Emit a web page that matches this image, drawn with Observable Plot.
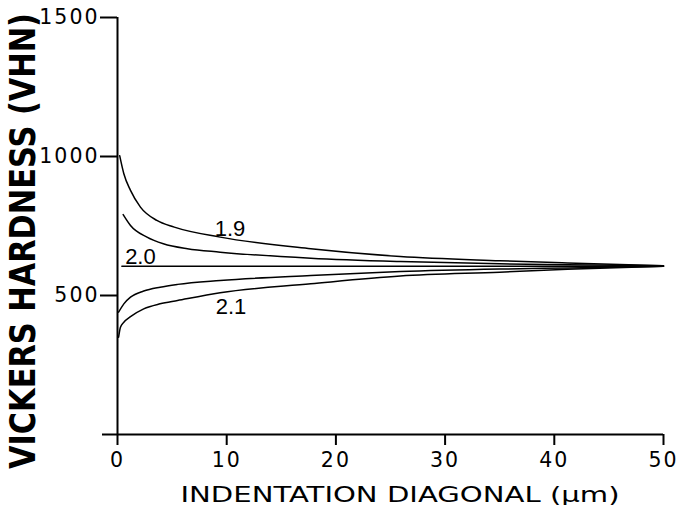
<!DOCTYPE html>
<html>
<head>
<meta charset="utf-8">
<script src="https://cdn.jsdelivr.net/npm/d3@7"></script>
<script src="https://cdn.jsdelivr.net/npm/@observablehq/plot@0.6"></script>
<style>
  body { margin: 0; background: #fff; }
  g[aria-label="y-axis tick label"] text,
  g[aria-label="x-axis tick label"] text { letter-spacing: 2px; }
</style>
</head>
<body>
<div id="chart"></div>
<script>
// Indentation diagonal (µm) and Vickers hardness (VHN), per Meyer index n
const diag19 = [0.2, 0.58, 1.19, 2.1, 3.6, 5.2, 9.4, 17.7, 25.9, 35, 41.2, 50];
const hard19 = [1003, 938, 878, 818, 770, 746, 710, 668, 640, 625, 617, 607];

const diag195 = [0.52, 1.19, 2.7, 4.2, 6.4, 9.4, 17.7, 25.9, 35, 41.2, 50];
const hard195 = [791, 752, 710, 686, 668, 656, 634, 622, 614, 611, 607];

const diag20 = [0.4, 10, 20, 30, 40, 50];
const hard20 = [605, 605, 605, 605, 605, 605];

const diag205 = [0.1, 0.58, 1.19, 2.4, 3.9, 5.5, 9.4, 17.7, 25.9, 35, 41.2, 50];
const hard205 = [440, 470, 494, 516, 530, 540, 554, 572, 586, 595, 599, 605];

const diag21 = [0.1, 0.27, 0.58, 1.19, 2.4, 3.9, 5.5, 9.4, 17.7, 25.9, 35, 41.2, 50];
const hard21 = [350, 386, 404, 424, 452, 470, 482, 510, 542, 570, 584, 594, 605];

const seriesNames = ["1.9", "1.95", "2.0", "2.05", "2.1"];
const seriesDiag = [diag19, diag195, diag20, diag205, diag21];
const seriesHard = [hard19, hard195, hard20, hard205, hard21];

// Curve labels
const labelText = ["1.9", "2.0", "2.1"];
const labelX = [10.3, 2.1, 10.4];
const labelY = [741, 640, 460];

// Axis ticks and titles
const xTicks = [0, 10, 20, 30, 40, 50];
const yTicks = [500, 1000, 1500];
const xTitle = "INDENTATION DIAGONAL (\u00b5m)";
const yTitle = "VICKERS HARDNESS (VHN)";

const rows = seriesNames.flatMap((n, s) =>
  seriesDiag[s].map((d, i) => ({series: n, d, h: seriesHard[s][i]}))
);
const labels = labelText.map((t, i) => ({t, x: labelX[i], y: labelY[i]}));

const chart = Plot.plot({
  width: 678,
  height: 505,
  marginLeft: 117,
  marginRight: 15,
  marginTop: 17,
  marginBottom: 71,
  x: {domain: [0, 50]},
  y: {domain: [0, 1500]},
  style: {fontFamily: "DejaVu Sans", fontSize: "20.5px", color: "black", background: "white", overflow: "visible"},
  marks: [
    Plot.line(rows, {x: "d", y: "h", z: "series", curve: "monotone-x", stroke: "black", strokeWidth: 1.5}),
    Plot.ruleX([0], {stroke: "black", strokeWidth: 2}),
    Plot.ruleY([0], {stroke: "black", strokeWidth: 2, insetLeft: -15}),
    Plot.axisX({ticks: xTicks, tickSize: 11, tickPadding: 7, strokeWidth: 2, label: null, tickFormat: d => String(d)}),
    Plot.axisY({ticks: yTicks, tickSize: 17, tickPadding: 1, strokeWidth: 2, label: null, tickFormat: d => String(d)}),
    Plot.text(labels, {x: "x", y: "y", text: "t", fontFamily: "Liberation Sans", fontSize: 22, fill: "black"}),
    Plot.text([yTitle], {text: d => d, frameAnchor: "left", textAnchor: "middle", lineAnchor: "middle", rotate: -90, dx: -94.5, dy: 15, fontFamily: "DejaVu Sans", fontWeight: "bold", fontSize: 36, fill: "black"}),
    Plot.text([xTitle], {text: d => d, frameAnchor: "bottom", textAnchor: "middle", lineAnchor: "middle", dx: 9.5, dy: 60, fontFamily: "DejaVu Sans", fontSize: 22, fill: "black"})
  ]
});

d3.select(chart).selectAll("text").filter(function () { return this.textContent === yTitle; })
  .attr("textLength", 456).attr("lengthAdjust", "spacingAndGlyphs");
d3.select(chart).selectAll("text").filter(function () { return this.textContent === xTitle; })
  .attr("textLength", 439).attr("lengthAdjust", "spacingAndGlyphs");

document.getElementById("chart").append(chart);
</script>
</body>
</html>
